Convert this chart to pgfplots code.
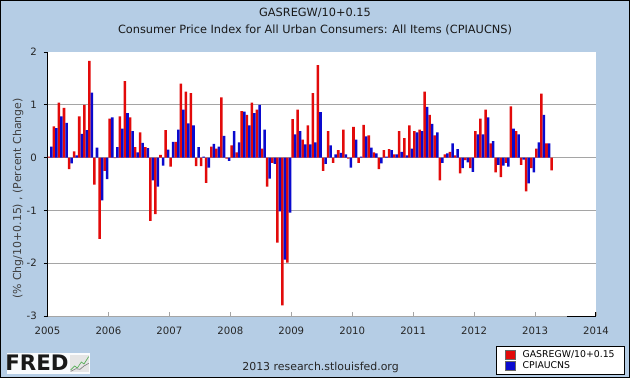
\documentclass[border=0pt]{standalone}
\usepackage{fontspec}
\setmainfont{DejaVu Sans}
\usepackage{pgfplots}
\pgfplotsset{compat=1.18}
\usepackage{pgfplotstable}
\definecolor{bgblue}{RGB}{181,205,229}
\definecolor{gasred}{RGB}{226,10,10}
\definecolor{cpiblue}{RGB}{10,10,206}
\definecolor{gridgray}{RGB}{165,165,165}

% month index (0 = Jan 2005), GASREGW/10+0.15 (% chg), CPIAUCNS (% chg)
\pgfplotstableread{
m gas cpi
0 0.02 0.21
1 0.59 0.56
2 1.04 0.78
3 0.94 0.66
4 -0.22 -0.11
5 0.12 0.04
6 0.78 0.45
7 1.00 0.52
8 1.83 1.23
9 -0.51 0.19
10 -1.54 -0.81
11 -0.25 -0.41
12 0.74 0.76
13 -0.01 0.20
14 0.78 0.55
15 1.45 0.84
16 0.76 0.50
17 0.20 0.10
18 0.48 0.28
19 0.20 0.18
20 -1.20 -0.43
21 -1.07 -0.55
22 0.05 -0.15
23 0.52 0.15
24 -0.17 0.30
25 0.30 0.53
26 1.40 0.91
27 1.25 0.65
28 1.22 0.61
29 -0.16 0.20
30 -0.16 0.02
31 -0.48 -0.19
32 0.21 0.26
33 0.17 0.21
34 1.14 0.41
35 -0.02 -0.06
36 0.23 0.50
37 0.10 0.29
38 0.88 0.87
39 0.81 0.61
40 1.04 0.84
41 0.91 1.00
42 0.17 0.53
43 -0.55 -0.40
44 -0.10 -0.12
45 -1.61 -1.02
46 -2.80 -1.93
47 -1.99 -1.04
48 0.73 0.44
49 0.91 0.50
50 0.34 0.25
51 0.61 0.25
52 1.22 0.29
53 1.75 0.86
54 -0.25 -0.12
55 0.50 0.23
56 -0.10 0.06
57 0.14 0.09
58 0.53 0.06
59 -0.02 -0.19
60 0.58 0.34
61 -0.10 0.02
62 0.62 0.40
63 0.42 0.19
64 0.10 0.08
65 -0.22 -0.11
66 0.14 0.02
67 0.16 0.14
68 0.06 0.06
69 0.50 0.11
70 0.37 0.04
71 0.61 0.17
72 0.50 0.48
73 0.53 0.50
74 1.25 0.96
75 0.81 0.64
76 0.42 0.48
77 -0.43 -0.10
78 0.06 0.08
79 0.11 0.27
80 0.04 0.16
81 -0.30 -0.20
82 -0.05 -0.09
83 -0.20 -0.27
84 0.50 0.44
85 0.74 0.44
86 0.91 0.76
87 0.27 0.31
88 -0.28 -0.14
89 -0.37 -0.15
90 -0.10 -0.17
91 0.97 0.55
92 0.50 0.44
93 -0.14 -0.04
94 -0.64 -0.49
95 -0.20 -0.28
96 0.17 0.29
97 1.21 0.81
98 0.27 0.27
99 -0.24 nan
}\datatable

\begin{document}
\begin{tikzpicture}
% background (630 x 378 px, 1px = 0.75pt)
\fill[bgblue] (0,0) rectangle (472.5pt,283.5pt);
\draw[black, line width=0.75pt] (0.375pt,0.375pt) rectangle (472.125pt,283.125pt);
% plot area
\fill[white] (35.625pt,46.5pt) rectangle (447pt,244.5pt);

\begin{axis}[
  at={(35.625pt,46.5pt)}, anchor=south west,
  scale only axis, width=411.375pt, height=198pt,
  xmin=0, xmax=108, ymin=-3, ymax=2,
  axis x line*=bottom, axis y line*=left,
  x axis line style={gridgray, line width=0.6pt},
  y axis line style={black, line width=0.75pt},
  xtick={0,12,...,108},
  xticklabels={2005,2006,2007,2008,2009,2010,2011,2012,2013,2014},
  ytick={-2,-1,0,1},
  yticklabels={-2,-1,0,1},
  extra y ticks={-3,2}, extra y tick labels={-3,2},
  extra y tick style={grid=none},
  ymajorgrids, grid style={gridgray, line width=0.6pt},
  xtick align=inside, ytick align=outside,
  major tick length=3pt,
  x tick style={gridgray, line width=0.6pt},
  y tick style={black, line width=0.6pt},
  xticklabel style={font=\fontsize{7.6}{9}\selectfont, anchor=center, inner sep=0pt, yshift=-11pt, text=black!85},
  yticklabel style={font=\fontsize{7.6}{9}\selectfont, anchor=east, inner sep=0pt, xshift=-4.9pt, text=black!85},
  legend style={
    at={(0.8171,-0.1125)}, anchor=north west,
    draw=black, line width=0.6pt, fill=white,
    font=\fontsize{7}{9}\selectfont,
    inner xsep=6.5pt, inner ysep=2.3pt,
    nodes={inner sep=0.6pt, text height=5.6pt, text depth=1.4pt},
    row sep=0pt,
    /tikz/every odd column/.append style={column sep=4.5pt},
  },
  legend cell align=left,
  legend image code/.code={\filldraw[draw=black!60, line width=0.3pt] (0pt,-3.3pt) rectangle (8pt,3.3pt);},
  clip=true,
]
\addplot[ybar, bar width=0.5, bar shift=0pt, fill=gasred, draw=none]
  table[x expr=\thisrow{m}+0.25, y=gas] {\datatable};
\addlegendentry{GASREGW/10+0.15}
\addplot[ybar, bar width=0.5, bar shift=0pt, fill=cpiblue, draw=none]
  table[x expr=\thisrow{m}+0.75, y=cpi] {\datatable};
\addlegendentry{CPIAUCNS}
\end{axis}

% bottom-right axis artefact
\draw[black, line width=0.75pt] (425.25pt,46.5pt) -- (446.25pt,46.5pt) -- (446.25pt,49.5pt);

% titles
\node[font=\fontsize{8.5}{10}\selectfont, text=black!90] at (236.25pt,273.75pt) {GASREGW/10+0.15};
\node[font=\fontsize{8.5}{10}\selectfont, text=black!90] at (236.25pt,261pt) {Consumer Price Index for All Urban Consumers: All Items (CPIAUCNS)};
% y label
\node[font=\fontsize{8.2}{10}\selectfont, text=black!75, rotate=90] at (13.5pt,134.6pt) {(\% Chg/10+0.15) , (Percent Change)};
% footer
\node[font=\fontsize{8.2}{10}\selectfont, text=black!85] at (240.4pt,8pt) {2013 research.stlouisfed.org};
% FRED logo
\fill[white!92!bgblue] (5.25pt,3pt) rectangle (67.5pt,18.75pt);
\node[font=\fontsize{16}{16}\bfseries\selectfont, text=black!90, inner sep=0pt] at (27.75pt,11.25pt) {FRED};
\fill[white!80!gray] (52.5pt,4.5pt) rectangle (67pt,17.5pt);
\draw[green!35!gray, line width=0.5pt] (53pt,6pt) -- (56pt,9pt) -- (58pt,7.5pt) -- (61pt,12pt) -- (63pt,10.5pt) -- (66.5pt,16pt);
\draw[gray, line width=0.5pt] (53pt,5pt) -- (57pt,7pt) -- (60pt,6.5pt) -- (63pt,9pt) -- (66.5pt,11pt);
\end{tikzpicture}
\end{document}
